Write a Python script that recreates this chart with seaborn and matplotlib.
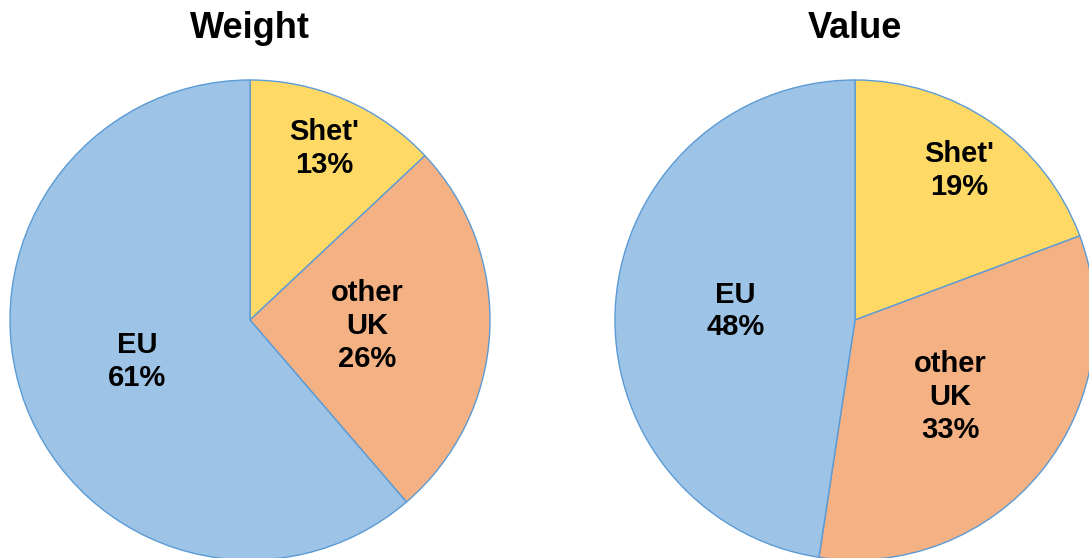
import numpy as np
import matplotlib
matplotlib.use('Agg')
import matplotlib.pyplot as plt
import seaborn as sns

sns.set_theme(style='white')
plt.rcParams['font.family'] = ['Liberation Sans', 'DejaVu Sans']

# Data (shares in %, labels show them rounded)
categories = ["Shet'", 'other\nUK', 'EU']
weight_pct = [13.0, 25.7, 61.3]
value_pct = [19.3, 33.1, 47.6]
titles = ['Weight', 'Value']

colors = ['#FFD966', '#F4B183', '#9DC3E6']
edge = '#5B9BD5'
# how far out each label sits (fraction of the radius)
label_r = {'Weight': [0.78, 0.49, 0.50], 'Value': [0.76, 0.51, 0.50]}

W, H = 1089, 558
fig = plt.figure(figsize=(W / 100, H / 100), dpi=100)

centers = [(250, 320), (855, 320)]
radius = 240

for (cx, cy), title, vals in zip(centers, titles, [weight_pct, value_pct]):
    ax = fig.add_axes([(cx - radius) / W, (H - cy - radius) / H,
                       2 * radius / W, 2 * radius / H])
    wedges, _ = ax.pie(vals, colors=colors, startangle=90, counterclock=False,
                       radius=1, wedgeprops=dict(edgecolor=edge, linewidth=1.0))
    ax.set_xlim(-1, 1)
    ax.set_ylim(-1, 1)
    ax.set_aspect('equal')
    ax.axis('off')

    for w, cat, v, r in zip(wedges, categories, vals, label_r[title]):
        ang = np.deg2rad((w.theta1 + w.theta2) / 2)
        ax.text(r * np.cos(ang), r * np.sin(ang), f'{cat}\n{round(v)}%',
                ha='center', va='center', fontsize=21, fontweight='bold',
                color='black', linespacing=1.22)

    fig.text(cx / W, 1 - 28 / H, title, ha='center', va='center',
             fontsize=26, fontweight='bold', color='black')

fig.savefig('out.png', dpi=100)
